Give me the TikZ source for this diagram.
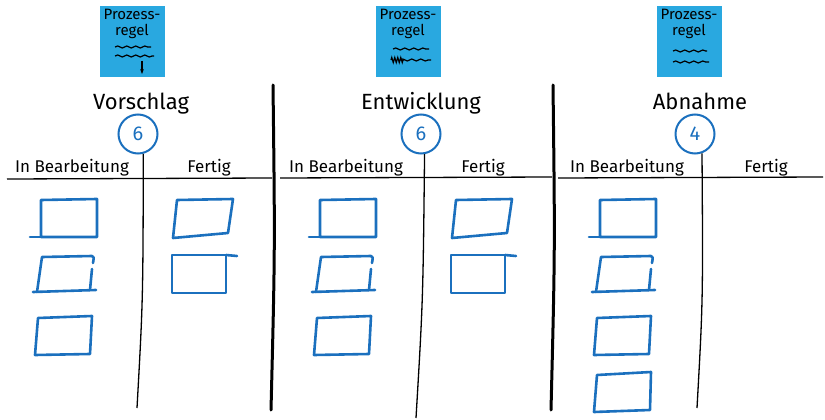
\documentclass[tikz,border=0pt]{standalone}
\usepackage{fontspec}
\setmainfont{Fira Sans}
\usetikzlibrary{positioning,decorations.pathmorphing,arrows.meta}
\definecolor{noteblue}{RGB}{41,168,224}
\definecolor{cardblue}{RGB}{27,112,190}
\tikzset{
  note/.style={fill=noteblue, minimum width=65pt, minimum height=71pt, inner sep=0pt},
  notetext/.style={font=\fontsize{15}{16}\selectfont, align=center, inner sep=0pt},
  squiggle/.style={line width=1.2pt, decorate, decoration={snake, amplitude=1pt, segment length=9pt}},
  scribble/.style={line width=1.2pt, decorate, decoration={zigzag, amplitude=2.5pt, segment length=3pt}},
  title/.style={font=\fontsize{22}{22}\selectfont, anchor=base},
  colhead/.style={font=\fontsize{17}{17}\selectfont, anchor=base},
  wip/.style={circle, draw=cardblue, line width=2pt, minimum size=39pt, inner sep=0pt, text=cardblue, font=\fontsize{20}{20}\selectfont},
  card/.style={draw=cardblue, line width=2.6pt, line cap=round, line join=round},
  divider/.style={line width=1.3pt},
  sepline/.style={line width=3pt, line cap=round}
}
\begin{document}
\begin{tikzpicture}[x=1pt, y=-1pt]
    \useasboundingbox (0,0) rectangle (825,420);

    %Vorschlag
    \node[note] (note1) at (132,42) {};
    \node[notetext, below=3pt of note1.north] (rule1) {Prozess-\\regel};
    \draw[squiggle] (115,47) -- (151,47);
    \draw[squiggle] (115,56) -- (154,56);
    \draw[-{Stealth[length=5pt]}, line width=1.3pt] (142,61) -- (142,74);
    \node[title] (title1) at (141,110) {Vorschlag};
    \node[wip] (wip1) at (138,134) {6};
    \node[colhead] (ib1) at (72,172) {In Bearbeitung};
    \node[colhead] (done1) at (209,172) {Fertig};
    \coordinate (foot1) at (137,408);
    \draw[divider] (wip1.-75) .. controls (143,300) .. (foot1);
    \draw[divider] (7,179) -- (272,178);

    %Entwicklung
    \node[note] (note2) at (408,42) {};
    \node[notetext, below=3pt of note2.north] (rule2) {Prozess-\\regel};
    \draw[squiggle] (393,49) -- (429,49);
    \draw[scribble] (391,60) -- (404,60);
    \draw[squiggle] (400,60) -- (431,60);
    \node[title] (title2) at (421,110) {Entwicklung};
    \node[wip] (wip2) at (421,134) {6};
    \node[colhead] (ib2) at (346,172) {In Bearbeitung};
    \node[colhead] (done2) at (483,172) {Fertig};
    \coordinate (foot2) at (416,418);
    \draw[divider] (wip2.-80) .. controls (423,300) .. (foot2);
    \draw[divider] (280,178) -- (552,177);

    %Abnahme
    \node[note] (note3) at (689,42) {};
    \node[notetext, below=3pt of note3.north] (rule3) {Prozess-\\regel};
    \draw[squiggle] (673,51) -- (707,51);
    \draw[squiggle] (673,62) -- (709,62);
    \node[title] (title3) at (700,110) {Abnahme};
    \node[wip] (wip3) at (695,134) {4};
    \node[colhead] (ib3) at (627,172) {In Bearbeitung};
    \node[colhead] (done3) at (766,172) {Fertig};
    \coordinate (foot3) at (697,408);
    \draw[divider] (wip3.-70) .. controls (703,300) .. (foot3);
    \draw[divider] (558,178) -- (823,177);

    %separators
    \draw[sepline] (273,85) .. controls (275,250) .. (271,410);
    \draw[sepline] (553,85) .. controls (555,250) .. (551,410);

    %cards Vorschlag
    \draw[card] (41,200) -- (97,199) -- (97,237) -- (41,237) -- cycle;
    \draw[card] (30,237) -- (41,237);
    \draw[card] (33,292) -- (96,290);
    \draw[card] (37,292) -- (42,257) -- (92,256) .. controls (94,257) .. (93,263);
    \draw[card] (92,269) -- (90,290);
    \draw[card] (38,318) -- (92,316) -- (90,354) -- (35,355) -- cycle;
    \draw[card] (177,200) -- (233,199) -- (228,233) -- (173,238) -- cycle;
    \draw[card] (172,255) -- (226,255) -- (226,293) -- (172,293) -- cycle;
    \draw[card] (226,255) -- (237,256);

    %cards Entwicklung
    \draw[card] (320,200) -- (376,199) -- (376,237) -- (320,237) -- cycle;
    \draw[card] (309,237) -- (320,237);
    \draw[card] (312,292) -- (375,290);
    \draw[card] (316,292) -- (321,257) -- (371,256) .. controls (373,257) .. (372,263);
    \draw[card] (371,269) -- (369,290);
    \draw[card] (317,318) -- (371,316) -- (369,354) -- (314,355) -- cycle;
    \draw[card] (456,200) -- (512,199) -- (507,233) -- (452,238) -- cycle;
    \draw[card] (451,255) -- (505,255) -- (505,293) -- (451,293) -- cycle;
    \draw[card] (505,255) -- (516,256);

    %cards Abnahme
    \draw[card] (600,200) -- (656,199) -- (656,237) -- (600,237) -- cycle;
    \draw[card] (589,237) -- (600,237);
    \draw[card] (592,292) -- (655,290);
    \draw[card] (596,292) -- (601,257) -- (651,256) .. controls (653,257) .. (652,263);
    \draw[card] (651,269) -- (649,290);
    \draw[card] (597,318) -- (651,316) -- (649,354) -- (594,355) -- cycle;
    \draw[card] (597,375) -- (651,372) -- (650,410) -- (594,412) -- cycle;
\end{tikzpicture}
\end{document}
